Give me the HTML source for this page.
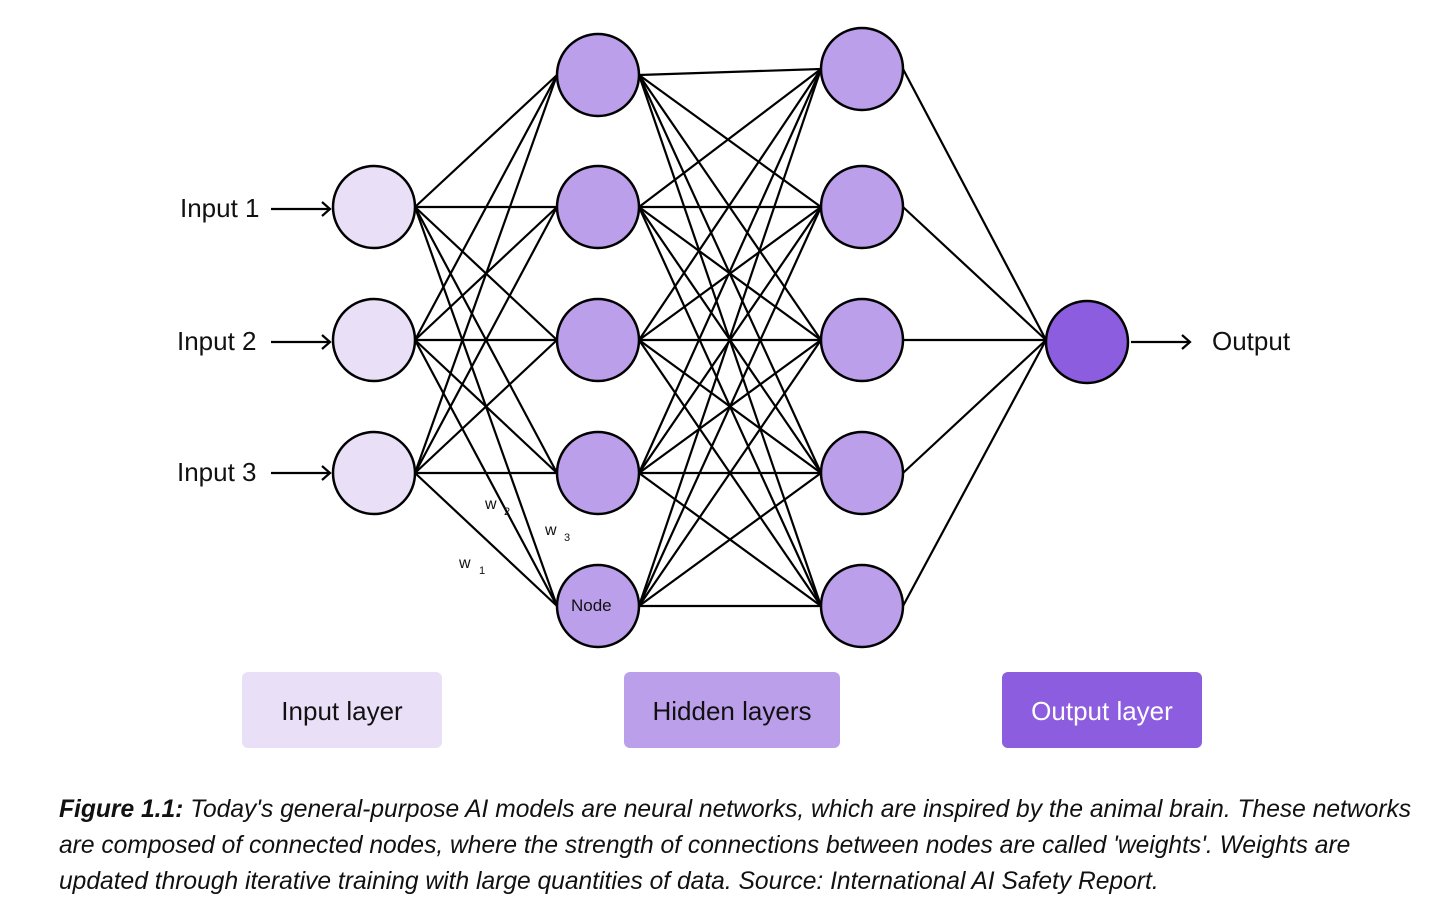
<!DOCTYPE html>
<html><head><meta charset="utf-8"><style>
body{margin:0;background:#fff;width:1456px;height:912px;overflow:hidden;font-family:"Liberation Sans",sans-serif}
.cap{position:absolute;left:59px;top:792px;white-space:nowrap;font-size:24.6px;font-style:italic;line-height:36px;color:#111}
</style></head><body>
<svg width="1456" height="912" style="position:absolute;left:0;top:0" font-family="Liberation Sans, sans-serif">
<g stroke="#000" stroke-width="2.2" id="lines"></g>
<g stroke="#000" stroke-width="2.5">
<circle cx="374" cy="207" r="41" fill="#e9dff7"/>
<circle cx="374" cy="340" r="41" fill="#e9dff7"/>
<circle cx="374" cy="473" r="41" fill="#e9dff7"/>
<circle cx="598" cy="75" r="41" fill="#bb9fea"/>
<circle cx="598" cy="207" r="41" fill="#bb9fea"/>
<circle cx="598" cy="340" r="41" fill="#bb9fea"/>
<circle cx="598" cy="473" r="41" fill="#bb9fea"/>
<circle cx="598" cy="606" r="41" fill="#bb9fea"/>
<circle cx="862" cy="69" r="41" fill="#bb9fea"/>
<circle cx="862" cy="207" r="41" fill="#bb9fea"/>
<circle cx="862" cy="340" r="41" fill="#bb9fea"/>
<circle cx="862" cy="473" r="41" fill="#bb9fea"/>
<circle cx="862" cy="606" r="41" fill="#bb9fea"/>
<circle cx="1087" cy="342" r="41" fill="#8c5ddf"/>
</g>
<g stroke="#000" stroke-width="2.2" fill="none">
<path d="M271 209H330M322 202L330 209L322 216"/>
<path d="M271 342H330M322 335L330 342L322 349"/>
<path d="M271 473H330M322 466L330 473L322 480"/>
<path d="M1131 342H1190M1182 335L1190 342L1182 349"/>
</g>
<g font-size="26" fill="#111">
<text x="180" y="217">Input 1</text>
<text x="177" y="350">Input 2</text>
<text x="177" y="481">Input 3</text>
<text x="1212" y="350">Output</text>
</g>
<text x="571" y="611" font-size="17" fill="#111">Node</text>
<g font-size="16" fill="#111">
<text x="485" y="509">w</text><text x="504" y="515" font-size="11">2</text>
<text x="545" y="535">w</text><text x="564" y="541" font-size="11">3</text>
<text x="459" y="568">w</text><text x="479" y="574" font-size="11">1</text>
</g>
<rect x="242" y="672" width="200" height="76" rx="6" fill="#e9dff7"/>
<rect x="624" y="672" width="216" height="76" rx="6" fill="#bb9fea"/>
<rect x="1002" y="672" width="200" height="76" rx="6" fill="#8c5ddf"/>
<g font-size="26" text-anchor="middle">
<text x="342" y="720" fill="#111">Input layer</text>
<text x="732" y="720" fill="#111">Hidden layers</text>
<text x="1102" y="720" fill="#fff">Output layer</text>
</g>
</svg>
<div class="cap"><b>Figure 1.1:</b> Today's general-purpose AI models are neural networks, which are inspired by the animal brain. These networks<br>are composed of connected nodes, where the strength of connections between nodes are called 'weights'. Weights are<br>updated through iterative training with large quantities of data. Source: International AI Safety Report.</div>
<script>
var g=document.getElementById('lines'),s='';
var I=[207,340,473],H1=[75,207,340,473,606],H2=[69,207,340,473,606];
function L(a,b,c,d){s+='<line x1="'+a+'" y1="'+b+'" x2="'+c+'" y2="'+d+'"/>';}
I.forEach(function(y){H1.forEach(function(z){L(415,y,557,z);});});
H1.forEach(function(y){H2.forEach(function(z){L(639,y,821,z);});});
H2.forEach(function(y){L(903,y,1046,340);});
g.innerHTML=s;
</script>
</body></html>
